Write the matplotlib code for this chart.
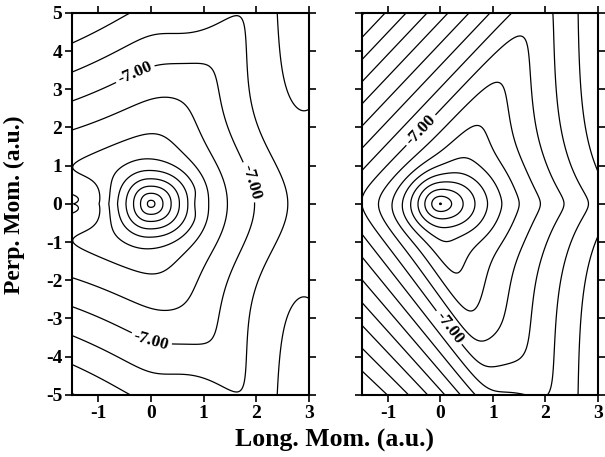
import numpy as np
import matplotlib
matplotlib.use('Agg')
import matplotlib.pyplot as plt

plt.rcParams['font.family'] = ['Liberation Serif', 'DejaVu Serif']
plt.rcParams['font.weight'] = 'bold'
plt.rcParams['axes.unicode_minus'] = False
plt.rcParams['contour.negative_linestyle'] = 'solid'

# contour levels (log10 of the distribution)
levels = [-11.0, -10.5, -10.0, -9.5, -9.0, -8.5, -8.0, -7.5,
          -6.5, -6.0, -5.5, -5.0, -4.5, -4.0, -3.5, -3.0]
label_levels = [-7.0]
xticks = [-1, 0, 1, 2, 3]
yticks = [-5, -4, -3, -2, -1, 0, 1, 2, 3, 4, 5]
xlim = [-1.5, 3.0]
ylim = [-5.0, 5.0]

# left panel
left_peak = [-2.75, 3.3]                  # log10 at centre, fall per a.u.
left_inner_shape = [0.85, 1.0, 1.2, 2.2]  # x scale left/right, y scale, norm power
left_dent = [0.92, 0.12, 0.25, 0.10]      # dent on the right of the inner rings
left_dip = [1.3, 0.65, -0.8]              # dip along y=0 at the left edge
left_side = [2.69, 0.287, 0.079, 0.10, 0.66]  # -7 at x=-1.5, slope, fan, bend, fall
left_cap = [3.85, 0.7, 0.7, 0.55]         # -7 top, fall, x of top, rounding
left_right = [1.95, 0.91, 0.7, 1.8]       # -7 at y=0, fall per a.u., bend, bend width
left_ridge = [-8.0, 0.6, 4.0]             # extra ridge near the right edge
left_labels = [(-0.3, 3.4), (1.95, 0.6), (0.0, -3.6)]

# right panel
right_peak = [-2.95, 3.85]
right_inner_shape = [1.0, 1.55, 1.35, 0.25]  # x scale left/right, y scale, taper
right_upper = [0.29, 1.45, 0.58]             # -7 crossing at x=-1.5, slope, spacing
right_lower = [0.19, 1.86, 0.128, 0.597]
right_bottom = [4.3, 0.75, 1.27, 0.6]        # -7 bottom, fall, x of bottom, rounding
right_right = [2.35, 1.06, 0.68, 1.2, 0.2]
right_labels = [(-0.35, 1.9), (0.3, -3.1)]


def softmax(terms, s=0.2):
    t = np.array(terms)
    m = t.max(axis=0)
    return m + s * np.log(np.exp((t - m) / s).sum(axis=0))


def left_field(X, Y):
    sxl, sxr, sy, p = left_inner_shape
    sx = sxl + (sxr - sxl) / (1 + np.exp(-X / 0.1))
    r1 = ((np.abs(X) / sx) ** p + (np.abs(Y) / sy) ** p) ** (1 / p)
    dx, wx, wy, dep = left_dent
    r1 = r1 + dep * np.exp(-((X - dx) / wx) ** 2 - (Y / wy) ** 2)
    f1 = left_peak[0] - left_peak[1] * r1

    u = X + 1.5
    a0, s0, s1, q, g = left_side
    a = (np.abs(Y) - s0 * u - q * u ** 2) / (1 + s1 * u)
    tu = g * (a - a0)
    yc, gc, xc, k = left_cap
    tc = gc * (np.abs(Y) - yc) - k * (X - xc) ** 2
    x0, gr, b, bw = left_right
    xe = X + b * (1 - np.exp(-(Y / bw) ** 2))
    tr = gr * (xe - x0)
    fo = -7.0 - softmax([tu, tc, tr], 0.25)
    d, wy, xd = left_dip
    fo = fo - d * np.exp(-(Y / wy) ** 2) / (1 + np.exp((X - xd) / 0.15))

    h, gx, wy3 = left_ridge
    f3 = h - gx * (3 - X) - (Y / wy3) ** 2 / np.log(10)
    return np.log10(10 ** f1 + 10 ** fo + 10 ** f3)


def right_field(X, Y):
    sxl, sxr, sy, tp = right_inner_shape
    sx = sxl + (sxr - sxl) / (1 + np.exp(-X / 0.15))
    syx = sy * np.clip(1 + tp * X, 0.5, None)
    r1 = np.sqrt((X / sx) ** 2 + (Y / syx) ** 2)
    f1 = right_peak[0] - right_peak[1] * r1

    u = X + 1.5
    a0, m, sp = right_upper
    tu = 0.5 * (Y - m * u - a0) / sp
    a0, s0, s1, sp = right_lower
    al = (-Y - s0 * u) / (1 - s1 * u)
    tl = 0.5 * (al - a0) / sp
    yc, gc, xc, k = right_bottom
    tb = gc * (-Y - yc) - k * (X - xc) ** 2
    x0, gr, b, bw, rnd = right_right
    ay = np.sqrt(Y ** 2 + rnd ** 2) - rnd
    xe = X + b * (1 - np.exp(-ay / bw))
    tr = gr * (xe - x0)
    fo = -7.0 - softmax([tu, tl, tb, tr], 0.3)
    return np.log10(10 ** f1 + 10 ** fo)


x = np.linspace(xlim[0], xlim[1], 451)
y = np.linspace(ylim[0], ylim[1], 801)
X, Y = np.meshgrid(x, y)

fig = plt.figure(figsize=(6.05, 4.57), dpi=100)
ax1 = fig.add_axes([0.119, 0.136, 0.392, 0.836])
ax2 = fig.add_axes([0.598, 0.136, 0.390, 0.836])

for ax, field, labs in [(ax1, left_field, left_labels), (ax2, right_field, right_labels)]:
    Z = field(X, Y)
    ax.contour(X, Y, Z, levels=levels, colors='black', linewidths=0.9)
    cs7 = ax.contour(X, Y, Z, levels=label_levels, colors='black', linewidths=0.9)
    txt = ax.clabel(cs7, fmt='%.2f', fontsize=12.5, inline=True,
                    inline_spacing=3, manual=labs)
    for t in txt:
        t.set_fontweight('bold')
    ax.set_xlim(xlim)
    ax.set_ylim(ylim)
    ax.set_xticks(xticks)
    ax.set_yticks(yticks)
    ax.tick_params(direction='out', length=5, width=1.2, top=True, right=True,
                   labelsize=14, pad=2)
    for lbl in ax.get_xticklabels() + ax.get_yticklabels():
        lbl.set_fontweight('bold')
    for s in ax.spines.values():
        s.set_linewidth(1.5)

ax2.set_yticklabels([])
fig.text(0.023, 0.553, 'Perp. Mom. (a.u.)', rotation=90, ha='center', va='center',
         fontsize=17, fontweight='bold')
fig.text(0.553, 0.037, 'Long. Mom. (a.u.)', ha='center', va='center',
         fontsize=18.5, fontweight='bold')

plt.savefig('out.png', dpi=100)
